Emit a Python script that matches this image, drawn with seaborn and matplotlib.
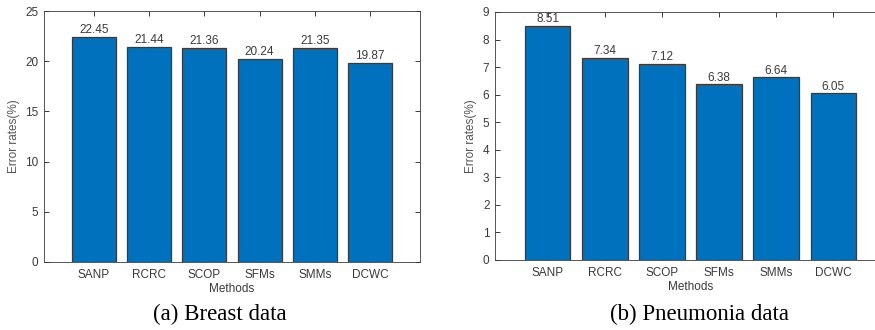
import matplotlib
matplotlib.use("Agg")
import matplotlib.pyplot as plt
import seaborn as sns
import pandas as pd

methods = ["SANP", "RCRC", "SCOP", "SFMs", "SMMs", "DCWC"]
breast_err = [22.45, 21.44, 21.36, 20.24, 21.35, 19.87]
pneumonia_err = [8.51, 7.34, 7.12, 6.38, 6.64, 6.05]

sns.set_theme(style="white")
plt.rcParams["font.family"] = ["Liberation Sans", "DejaVu Sans"]

BAR = "#0072BD"
INK = "#3a3a3a"
FS = 8.5

fig = plt.figure(figsize=(8.75, 3.3), dpi=100)
W, H = 875, 330


def panel(rect, values, ymax, yticks, xlim, caption, cap_x):
    l, t, r, b = rect
    ax = fig.add_axes([l / W, 1 - b / H, (r - l) / W, (b - t) / H])
    df = pd.DataFrame({"Methods": methods, "Error": values})
    sns.barplot(data=df, x="Methods", y="Error", ax=ax, color=BAR,
                saturation=1, width=0.8, edgecolor="#3a3a3a", linewidth=0.9)
    ax.set_xlim(*xlim)
    ax.set_ylim(0, ymax)
    ax.set_yticks(yticks)
    for c in ax.containers:
        ax.bar_label(c, labels=[f"{v:.2f}" for v in values], padding=0.3,
                     fontsize=FS, color=INK)
    ax.set_xlabel("Methods", fontsize=FS, color=INK, labelpad=1.5)
    ax.set_ylabel("Error rates(%)", fontsize=FS, color="#555555", labelpad=4)
    ax.tick_params(axis="both", direction="in", length=3.5, width=0.7,
                   labelsize=FS, labelcolor=INK, color=INK,
                   top=True, right=True, bottom=True, left=True)
    ax.tick_params(axis="x", pad=5)
    ax.tick_params(axis="y", pad=4)
    for s in ax.spines.values():
        s.set_color(INK)
        s.set_linewidth(0.6)
    fig.text(cap_x / W, 1 - 314 / H, caption, ha="center", va="center",
             fontsize=16.5, family=["Liberation Serif", "DejaVu Serif"],
             color="black")
    return ax


panel((44, 11, 420, 262), breast_err, 25, range(0, 26, 5), (-0.9, 5.9),
      "(a) Breast data", 220)
panel((495, 12, 886, 260), pneumonia_err, 9, range(0, 10), (-0.92, 5.92),
      "(b) Pneumonia data", 700)

fig.savefig("out.png", dpi=100)
